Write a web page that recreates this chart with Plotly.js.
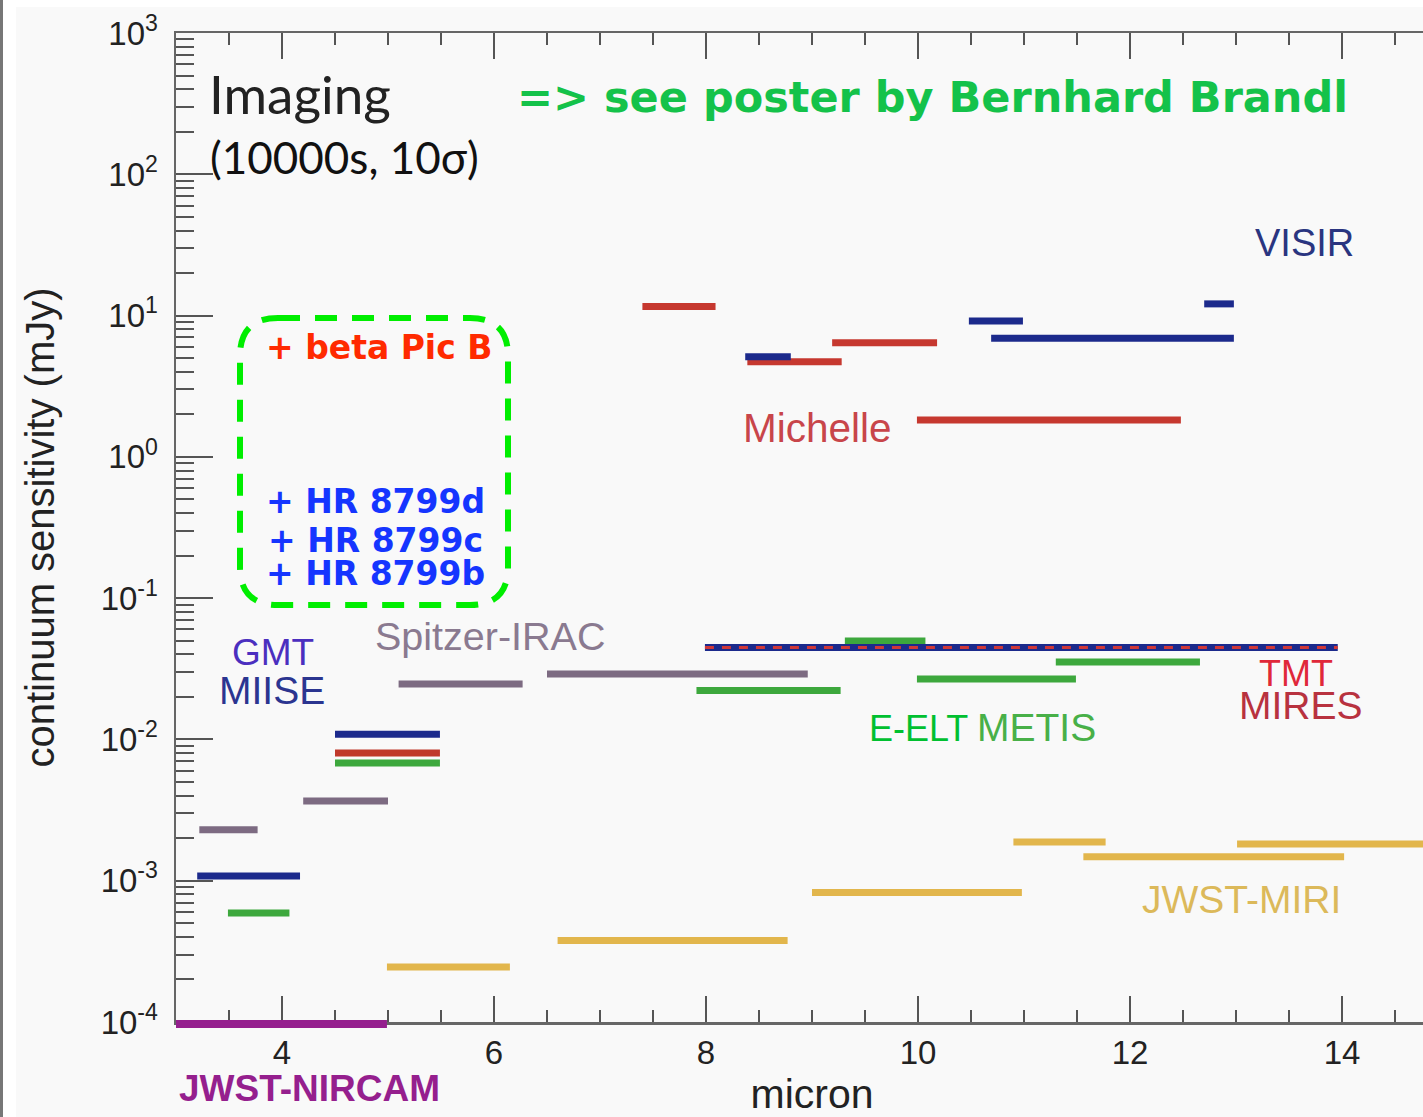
<!DOCTYPE html>
<html><head><meta charset="utf-8">
<script src="https://cdn.plot.ly/plotly-3.0.1.min.js"></script>
<style>
html,body{margin:0;padding:0;overflow:hidden;background:#ffffff;width:1423px;height:1117px}
#chart{width:1448px;height:1117px}
</style>
</head><body><div id="chart"></div>
<script>
// ---------------- data (micron ranges, sensitivity in mJy) ----------------
const spitzerStart = [3.22, 4.20, 5.10, 6.50];
const spitzerEnd   = [3.77, 5.00, 6.27, 8.96];
const spitzerSens  = [2.29e-3, 3.67e-3, 2.47e-2, 2.91e-2];

const miriStart = [4.99, 6.60, 9.00, 10.90, 11.56, 13.01];
const miriEnd   = [6.15, 8.77, 10.98, 11.77, 14.02, 16.50];
const miriSens  = [2.45e-4, 3.78e-4, 8.24e-4, 1.88e-3, 1.48e-3, 1.82e-3];

const metisStart = [3.49, 4.50, 7.91, 9.31, 9.99, 11.30];
const metisEnd   = [4.07, 5.49, 9.27, 10.07, 11.49, 12.66];
const metisSens  = [5.9e-4, 6.82e-3, 2.22e-2, 4.98e-2, 2.68e-2, 3.53e-2];

const miiseStart = [3.20, 4.50, 7.99];
const miiseEnd   = [4.17, 5.49, 13.96];
const miiseSens  = [1.08e-3, 1.09e-2, 4.48e-2];

const miresStart = [4.50, 7.99];
const miresEnd   = [5.49, 13.96];
const miresSens  = [8.0e-3, 4.48e-2];

const michelleStart = [7.40, 8.39, 9.19, 9.99];
const michelleEnd   = [8.09, 9.28, 10.18, 12.48];
const michelleSens  = [11.6, 4.72, 6.43, 1.82];

const visirStart = [8.37, 10.48, 10.69, 12.70];
const visirEnd   = [8.80, 10.99, 12.98, 12.98];
const visirSens  = [5.12, 9.16, 6.90, 12.1];

const nircamStart = 3.0;
const nircamEnd   = 4.99;

const yTickVals = [1e-4, 1e-3, 1e-2, 1e-1, 1e0, 1e1, 1e2, 1e3];
const yTickText = ['10<sup>-4</sup>', '10<sup>-3</sup>', '10<sup>-2</sup>', '10<sup>-1</sup>',
                   '10<sup>0</sup>', '10<sup>1</sup>', '10<sup>2</sup>', '10<sup>3</sup>'];
const xTickVals = [4, 6, 8, 10, 12, 14];

// ---------------- helpers ----------------
function segs(starts, ends, vals) {
  const x = [], y = [];
  starts.forEach((s, i) => { x.push(s, ends[i], null); y.push(vals[i], vals[i], null); });
  return {x, y};
}
function lineTrace(starts, ends, vals, color, width, dash) {
  const s = segs(starts, ends, vals);
  return {type: 'scatter', mode: 'lines', x: s.x, y: s.y, connectgaps: false,
          hoverinfo: 'skip', showlegend: false,
          line: {color: color, width: width, dash: dash || 'solid'}};
}

const L = 176, T = 33, W = 1448, H = 1117, PW = 1272, PH = 989;
const PX = v => (v - L) / PW;
const PY = v => (T + PH - v) / PH;

const SANS = 'Liberation Sans, Arial, Helvetica, sans-serif';
const GILL = 'Lato, Open Sans, sans-serif';
const BOLD = 'DejaVu Sans, Verdana, sans-serif';

function ann(text, left, cy, size, color, family, weight) {
  return {xref: 'paper', yref: 'paper', x: PX(left), y: PY(cy), xanchor: 'left', yanchor: 'middle',
          text: text, showarrow: false,
          font: {size: size, color: color, family: family || SANS, weight: weight || 400}};
}

const traces = [
  lineTrace(spitzerStart, spitzerEnd, spitzerSens, '#7d6b82', 7),
  lineTrace(miriStart, miriEnd, miriSens, '#e2b64c', 7),
  lineTrace(metisStart, metisEnd, metisSens, '#3da83d', 7),
  lineTrace(miiseStart, miiseEnd, miiseSens, '#1c2a8c', 7),
  lineTrace(miresStart.slice(0, 1), miresEnd.slice(0, 1), miresSens.slice(0, 1), '#c0392b', 7),
  lineTrace(miresStart.slice(1), miresEnd.slice(1), miresSens.slice(1), '#d03838', 3, '9px,8px'),
  lineTrace(michelleStart, michelleEnd, michelleSens, '#c6382f', 7),
  lineTrace(visirStart, visirEnd, visirSens, '#1c2a8c', 7)
];

// rounded dashed box
const bx0 = 240, bx1 = 508, by0 = 318, by1 = 605, r = 38;
const rx = r / PW, ry = r / PH;
const X0 = PX(bx0), X1 = PX(bx1), Y0 = PY(by0), Y1 = PY(by1);
const boxPath = `M ${X0 + rx} ${Y0} L ${X1 - rx} ${Y0} Q ${X1} ${Y0} ${X1} ${Y0 - ry} ` +
                `L ${X1} ${Y1 + ry} Q ${X1} ${Y1} ${X1 - rx} ${Y1} ` +
                `L ${X0 + rx} ${Y1} Q ${X0} ${Y1} ${X0} ${Y1 + ry} ` +
                `L ${X0} ${Y0 - ry} Q ${X0} ${Y0} ${X0 + rx} ${Y0} Z`;

const layout = {
  width: W, height: H,
  margin: {l: L, r: W - L - PW, t: T, b: H - T - PH, pad: 0},
  paper_bgcolor: '#f9f9f9', plot_bgcolor: '#f9f9f9',
  showlegend: false,
  xaxis: {
    range: [3, 15], tickvals: xTickVals, ticks: 'inside', ticklen: 26, tickwidth: 2, tickcolor: '#555',
    showline: true, linecolor: '#666', linewidth: 2.5, mirror: 'ticks', showgrid: false, zeroline: false,
    minor: {dtick: 0.5, tick0: 0, ticks: 'inside', ticklen: 12, tickwidth: 2, tickcolor: '#555', showgrid: false},
    tickfont: {size: 33, color: '#222', family: SANS}, ticklabelstandoff: 0,
    title: {text: 'micron', font: {size: 41, color: '#222', family: SANS}, standoff: 13}
  },
  yaxis: {
    type: 'log', range: [-4, 3], tickvals: yTickVals, ticktext: yTickText,
    ticks: 'inside', ticklen: 37, tickwidth: 2, tickcolor: '#555',
    showline: true, linecolor: '#666', linewidth: 2.5, mirror: false, showgrid: false, zeroline: false,
    minor: {dtick: 'D1', ticks: 'inside', ticklen: 18, tickwidth: 2, tickcolor: '#555', showgrid: false},
    tickfont: {size: 33, color: '#222', family: SANS}, ticklabelstandoff: 9,
    title: {text: 'continuum sensitivity (mJy)', font: {size: 40, color: '#222', family: SANS}, standoff: 34}
  },
  shapes: [
    {type: 'rect', xref: 'paper', yref: 'paper', x0: PX(0), x1: PX(16), y0: PY(H), y1: PY(0),
     fillcolor: '#ffffff', line: {width: 0}, layer: 'below'},
    {type: 'rect', xref: 'paper', yref: 'paper', x0: PX(0), x1: PX(W), y0: PY(7), y1: PY(0),
     fillcolor: '#ffffff', line: {width: 0}, layer: 'below'},
    {type: 'rect', xref: 'paper', yref: 'paper', x0: PX(0), x1: PX(3), y0: PY(H), y1: PY(0),
     fillcolor: '#777777', line: {width: 0}, layer: 'below'},
    {type: 'line', xref: 'x', yref: 'paper', x0: nircamStart, x1: nircamEnd, y0: PY(1024), y1: PY(1024),
     line: {color: '#951f8e', width: 8}, layer: 'above'},
    {type: 'path', xref: 'paper', yref: 'paper', path: boxPath,
     line: {color: '#00ee00', width: 6, dash: '22px,15px'}, layer: 'above'}
  ],
  annotations: [
    ann('Imaging', 207, 93, 53, '#222', GILL),
    ann('(10000s, 10σ)', 208, 157, 44, '#111', GILL),
    ann('=> see poster by Bernhard Brandl', 515, 97, 43, '#14c24a', BOLD, 700),
    ann('+ beta Pic B', 264, 348, 33, '#ff2a00', BOLD, 700),
    ann('+ HR 8799d', 264, 501, 33, '#1535ff', BOLD, 700),
    ann('+ HR 8799c', 266, 540, 33, '#1535ff', BOLD, 700),
    ann('+ HR 8799b', 264, 573, 33, '#1535ff', BOLD, 700),
    ann('GMT', 230, 652, 37, '#4b2fbf'),
    ann('MIISE', 217, 690, 39, '#2b3590'),
    ann('Spitzer-IRAC', 373, 636, 39.5, '#8a7a90'),
    ann('Michelle', 741, 428, 40.5, '#c8454a'),
    ann('VISIR', 1253, 243, 38, '#2a3580'),
    ann('TMT', 1257, 674, 36, '#e0283a'),
    ann('MIRES', 1237, 705, 39, '#b8323f'),
    ann('E-ELT', 867, 728, 36, '#00c030'),
    ann('METIS', 975, 727, 39, '#48b048'),
    ann('JWST-MIRI', 1140, 899, 39, '#dcb95a'),
    ann('JWST-NIRCAM', 177, 1088, 37, '#951f8e', SANS, 700)
  ]
};

Plotly.newPlot('chart', traces, layout, {displayModeBar: false, staticPlot: true});
</script>
</body></html>
